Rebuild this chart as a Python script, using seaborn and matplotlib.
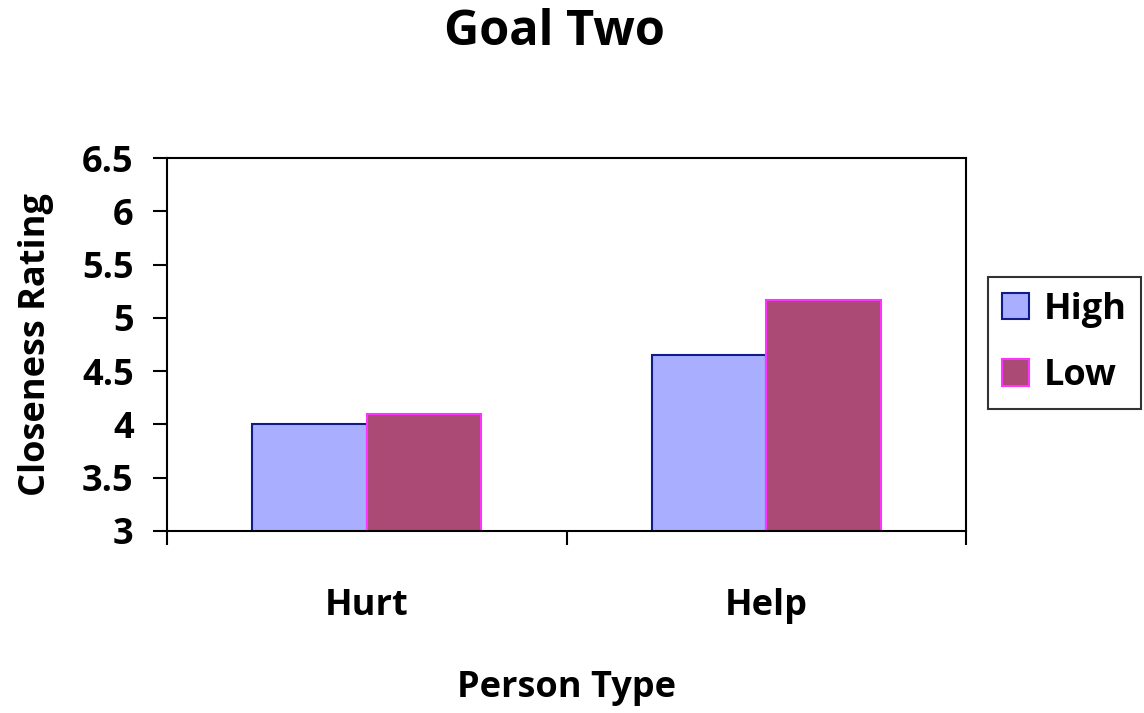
import matplotlib
matplotlib.use("Agg")
import matplotlib.pyplot as plt
from matplotlib.ticker import FixedLocator
import seaborn as sns
import pandas as pd

# Data
person_types = ["Hurt", "Help"]
groups = ["High", "Low"]
high_values = [4.0, 4.65]
low_values = [4.1, 5.17]

y_ticks = [3, 3.5, 4, 4.5, 5, 5.5, 6, 6.5]
y_tick_labels = ["3", "3.5", "4", "4.5", "5", "5.5", "6", "6.5"]

df = pd.DataFrame({
    "Person Type": person_types * 2,
    "Group": ["High"] * 2 + ["Low"] * 2,
    "Rating": high_values + low_values,
})

fill_colors = {"High": "#AAAEFF", "Low": "#AA4A75"}
edge_colors = {"High": "#101C8C", "Low": "#FF33FF"}

sns.set_theme(style="white")
plt.rcParams["font.family"] = ["Open Sans", "DejaVu Sans"]
plt.rcParams["font.weight"] = "bold"
plt.rcParams["text.color"] = "black"
plt.rcParams["axes.labelcolor"] = "black"
plt.rcParams["xtick.color"] = "black"
plt.rcParams["ytick.color"] = "black"

FS = 26

fig = plt.figure(figsize=(11.44, 7.13), dpi=100)
ax = fig.add_axes([0.146, 0.2553, 0.6984, 0.5231])

sns.barplot(data=df, x="Person Type", y="Rating", hue="Group",
            order=person_types, hue_order=groups,
            palette=fill_colors, width=0.573, gap=0,
            saturation=1, ax=ax, legend=True)

for container, g in zip(ax.containers, groups):
    for bar in container:
        bar.set_edgecolor(edge_colors[g])
        bar.set_linewidth(1.5)

ax.set_ylim(3, 6.5)
ax.set_xlim(-0.5, 1.5)
ax.set_yticks(y_ticks)
ax.set_yticklabels(y_tick_labels)

ax.tick_params(axis="y", which="major", direction="out", length=10, width=1.5,
               color="black", labelcolor="black", labelsize=FS, pad=14, left=True)
ax.tick_params(axis="x", which="major", length=0, labelsize=FS,
               labelcolor="black", pad=41)
ax.xaxis.set_minor_locator(FixedLocator([-0.5, 0.5, 1.5]))
ax.tick_params(axis="x", which="minor", direction="out", length=10, width=1.5,
               color="black", bottom=True)

for lbl in ax.get_xticklabels() + ax.get_yticklabels():
    lbl.set_fontweight("bold")

for side in ["left", "right", "top", "bottom"]:
    ax.spines[side].set_visible(True)
    ax.spines[side].set_color("black")
    ax.spines[side].set_linewidth(1.5)

ax.set_xlabel("Person Type", fontsize=FS, fontweight="bold", color="black",
              labelpad=33)
ax.set_ylabel("Closeness Rating", fontsize=FS, fontweight="bold", color="black",
              labelpad=20)

fig.text(0.485, 0.955, "Goal Two", fontsize=35, fontweight="bold",
         color="black", ha="center", va="center")

handles, labels = ax.get_legend_handles_labels()
for h, g in zip(handles, groups):
    h.set_edgecolor(edge_colors[g])
    h.set_linewidth(1.5)
leg = ax.legend(handles, labels, loc="center left",
                bbox_to_anchor=(0.8636, 0.519), bbox_transform=fig.transFigure,
                prop={"size": FS, "weight": "bold"},
                frameon=True, fancybox=False, edgecolor="black",
                handlelength=0.75, handleheight=0.75, handletextpad=0.4,
                labelspacing=0.85, borderpad=0.4, borderaxespad=0)
leg.get_frame().set_linewidth(1.5)
for t in leg.get_texts():
    t.set_color("black")

fig.savefig("out.png", dpi=100, facecolor="white")
